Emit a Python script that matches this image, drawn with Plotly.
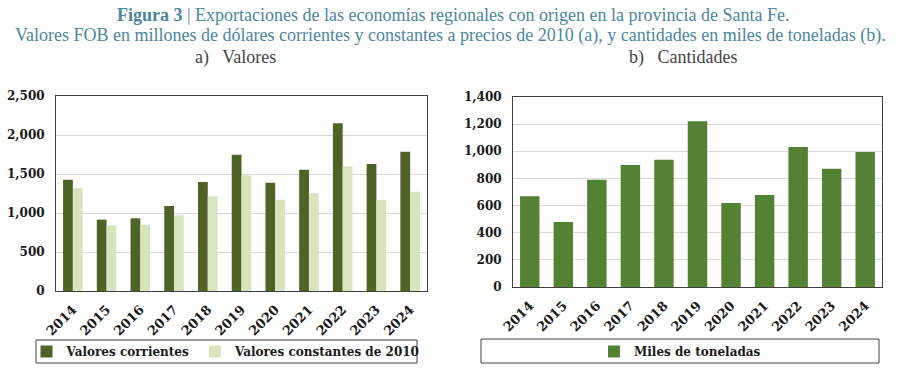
import plotly.graph_objects as go

years = ["2014", "2015", "2016", "2017", "2018", "2019", "2020", "2021", "2022", "2023", "2024"]
valores_corrientes = [1427, 915, 932, 1090, 1397, 1748, 1389, 1556, 2150, 1628, 1786]
valores_constantes = [1316, 842, 850, 970, 1214, 1483, 1171, 1252, 1598, 1167, 1274]
miles_toneladas = [668, 479, 791, 899, 938, 1221, 619, 678, 1032, 872, 995]

W, H = 900, 375
TICKFONT = dict(family="DejaVu Serif", size=12, color="#1a1a1a", weight="bold")
XTICKFONT = dict(family="DejaVu Serif", size=13, color="#1a1a1a", weight="bold")
LEGFONT = dict(family="DejaVu Serif", size=12, color="#1a1a1a", weight="bold")
TITLE_COLOR = "#4A86A2"

fig = go.Figure()
fig.add_trace(go.Bar(x=years, y=valores_corrientes, name="Valores corrientes",
                     marker=dict(color="#4F6228", line=dict(width=0)),
                     xaxis="x", yaxis="y", legend="legend"))
fig.add_trace(go.Bar(x=years, y=valores_constantes, name="Valores constantes de 2010",
                     marker=dict(color="#D7E4BD", line=dict(width=0)),
                     xaxis="x", yaxis="y", legend="legend"))
fig.add_trace(go.Bar(x=years, y=miles_toneladas, name="Miles de toneladas",
                     marker=dict(color="#548235", line=dict(width=0)),
                     xaxis="x2", yaxis="y2", legend="legend2"))

def px_x(a, b):
    return [a / W, b / W]

def px_y(top, bottom):
    return [1 - bottom / H, 1 - top / H]

axis_common = dict(showline=True, mirror=True, linecolor="#404040", linewidth=1, ticks="")

fig.update_layout(
    width=W, height=H,
    margin=dict(l=0, r=0, t=0, b=0, autoexpand=False),
    paper_bgcolor="white", plot_bgcolor="white",
    barmode="group",
    bargap=0.42, bargroupgap=0,
    xaxis=dict(domain=px_x(56, 427), anchor="y", tickangle=-45, showgrid=False,
               tickfont=XTICKFONT, ticklabelstandoff=5, **axis_common),
    yaxis=dict(domain=px_y(96, 291), anchor="x", range=[0, 2500], dtick=500, tickformat=",d",
               showgrid=True, gridcolor="#D9D9D9", gridwidth=1, ticklabelstandoff=8,
               tickfont=TICKFONT, **axis_common),
    xaxis2=dict(domain=px_x(513, 882), anchor="y2", tickangle=-45, showgrid=False,
                tickfont=XTICKFONT, ticklabelstandoff=5, **axis_common),
    yaxis2=dict(domain=px_y(97, 287), anchor="x2", range=[0, 1400], dtick=200, tickformat=",d",
                showgrid=True, gridcolor="#D9D9D9", gridwidth=1, ticklabelstandoff=8,
                tickfont=TICKFONT, **axis_common),
    legend=dict(orientation="h", x=226 / W, xanchor="center", y=1 - 351.5 / H, yanchor="middle",
                font=LEGFONT, bgcolor="rgba(0,0,0,0)", itemwidth=30),
    legend2=dict(orientation="h", x=680 / W, xanchor="center", y=1 - 351.5 / H, yanchor="middle",
                 font=LEGFONT, bgcolor="rgba(0,0,0,0)", itemwidth=30),
    showlegend=True,
)

# legend boxes
fig.add_shape(type="rect", xref="paper", yref="paper",
              x0=36 / W, x1=417 / W, y0=1 - 363 / H, y1=1 - 340 / H,
              line=dict(color="#404040", width=1), fillcolor="rgba(0,0,0,0)")
fig.add_shape(type="rect", xref="paper", yref="paper",
              x0=481 / W, x1=879 / W, y0=1 - 363 / H, y1=1 - 339 / H,
              line=dict(color="#404040", width=1), fillcolor="rgba(0,0,0,0)")

# titles
fig.add_annotation(xref="paper", yref="paper", x=453 / W, y=1 - 15 / H, showarrow=False,
                   xanchor="center", yanchor="middle",
                   text="<b>Figura 3</b> | Exportaciones de las economías regionales con origen en la provincia de Santa Fe.",
                   font=dict(family="Liberation Serif", size=18, color=TITLE_COLOR))
fig.add_annotation(xref="paper", yref="paper", x=450 / W, y=1 - 35 / H, showarrow=False,
                   xanchor="center", yanchor="middle",
                   text="Valores FOB en millones de dólares corrientes y constantes a precios de 2010 (a), y cantidades en miles de toneladas (b).",
                   font=dict(family="Liberation Serif", size=18, color=TITLE_COLOR))
fig.add_annotation(xref="paper", yref="paper", x=235 / W, y=1 - 57 / H, showarrow=False,
                   xanchor="center", yanchor="middle",
                   text="a)   Valores",
                   font=dict(family="Liberation Serif", size=18, color="#444444"))
fig.add_annotation(xref="paper", yref="paper", x=683 / W, y=1 - 57 / H, showarrow=False,
                   xanchor="center", yanchor="middle",
                   text="b)   Cantidades",
                   font=dict(family="Liberation Serif", size=18, color="#444444"))

fig.write_html("out.html", post_script="document.body.style.margin='0';",
               config={"displayModeBar": False})
